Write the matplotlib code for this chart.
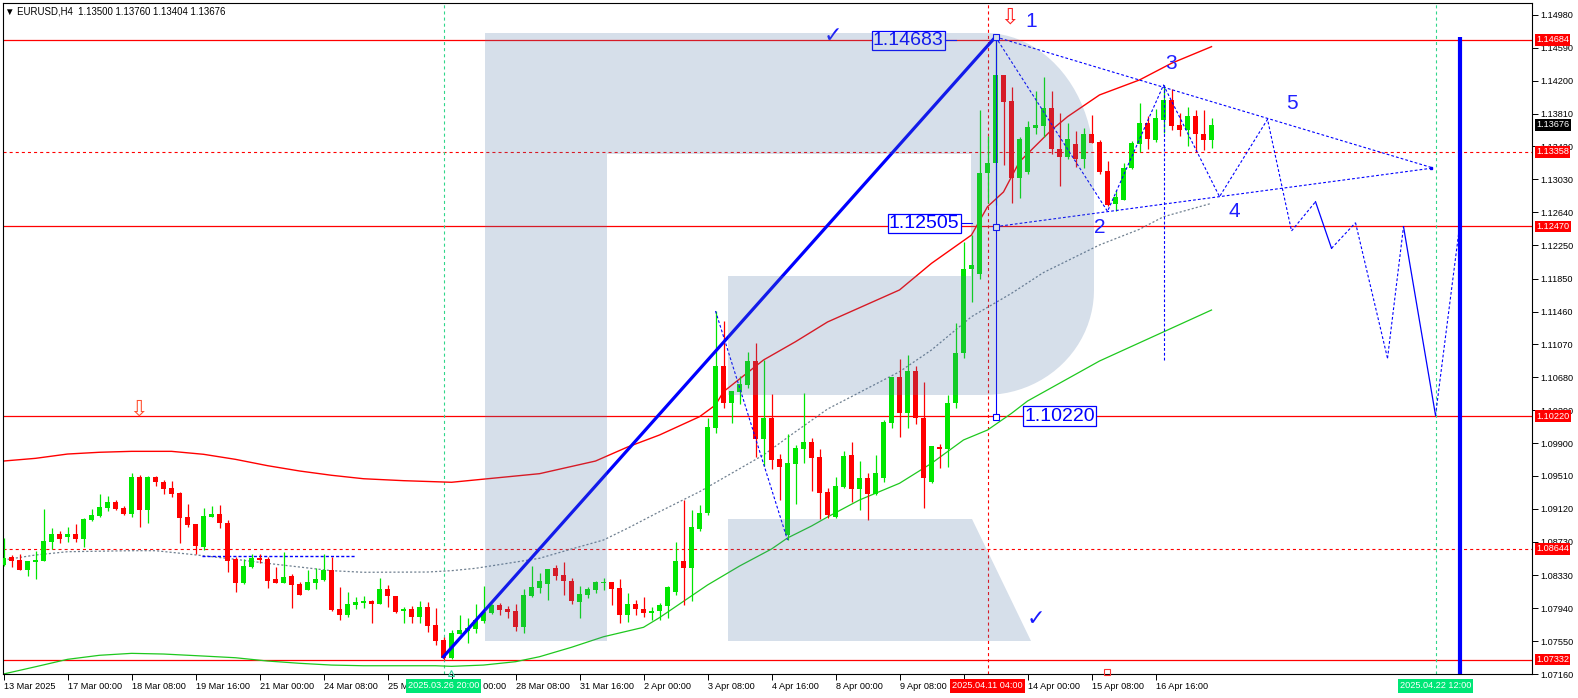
import numpy as np
import matplotlib
matplotlib.use("Agg")
import matplotlib.pyplot as plt
from matplotlib.patches import Polygon

plt.rcParams["font.family"] = ["Liberation Sans", "DejaVu Sans"]
plt.rcParams["lines.scale_dashes"] = False

# -- EURUSD H4 candles, bar 0 = 13 Mar 2025 ------------------------
opens = [1.08453, 1.08544, 1.08512, 1.08398, 1.08492, 1.08500, 1.08730, 1.08821, 1.08789, 1.08821,
         1.08765, 1.08991, 1.09038, 1.09133, 1.09200, 1.09129, 1.09062, 1.09496, 1.09109, 1.09496,
         1.09441, 1.09366, 1.09307, 1.09026, 1.08939, 1.08662, 1.09026, 1.09058, 1.08951, 1.08524,
         1.08243, 1.08433, 1.08536, 1.08524, 1.08287, 1.08243, 1.08322, 1.08231, 1.08156, 1.08243,
         1.08275, 1.08393, 1.07930, 1.07864, 1.07982, 1.08006, 1.08030, 1.07994, 1.08168, 1.08085,
         1.07907, 1.07930, 1.07840, 1.07954, 1.07737, 1.07563, 1.07352, 1.07637, 1.07665, 1.07693,
         1.07788, 1.07883, 1.07974, 1.07930, 1.07907, 1.07721, 1.08089, 1.08180, 1.08231, 1.08418,
         1.08334, 1.08263, 1.08018, 1.08097, 1.08156, 1.08243, 1.08251, 1.08180, 1.07863, 1.07990,
         1.07929, 1.07879, 1.07913, 1.07969, 1.08128, 1.08503, 1.08413, 1.08877, 1.09067, 1.10083,
         1.10815, 1.10379, 1.10510, 1.10589, 1.10874, 1.09952, 1.10201, 1.09711, 1.08809, 1.09655,
         1.09830, 1.09913, 1.09735, 1.09319, 1.09019, 1.09382, 1.09755, 1.09352, 1.09482, 1.09292,
         1.09489, 1.10142, 1.10681, 1.10261, 1.10755, 1.10201, 1.09442, 1.09853, 1.09826, 1.10372,
         1.10973, 1.11962, 1.11903, 1.13101, 1.13220, 1.14264, 1.13963, 1.13049, 1.13120, 1.13643,
         1.13666, 1.13873, 1.13390, 1.13291, 1.13449, 1.13271, 1.13568, 1.13473, 1.13132, 1.12741,
         1.12788, 1.13168, 1.13449, 1.13698, 1.13497, 1.13734, 1.13971, 1.13675, 1.13615, 1.13781,
         1.13568, 1.13500]
highs = [1.08769, 1.08571, 1.08579, 1.08504, 1.08619, 1.09117, 1.08892, 1.08856, 1.08904, 1.08935,
         1.09015, 1.09113, 1.09295, 1.09268, 1.09224, 1.09149, 1.09540, 1.09520, 1.09504, 1.09508,
         1.09461, 1.09453, 1.09315, 1.09177, 1.08939, 1.09133, 1.09153, 1.09165, 1.08987, 1.08552,
         1.08524, 1.08579, 1.08583, 1.08544, 1.08433, 1.08607, 1.08346, 1.08255, 1.08393, 1.08413,
         1.08583, 1.08552, 1.08196, 1.08132, 1.08069, 1.08085, 1.08038, 1.08298, 1.08215, 1.08085,
         1.07958, 1.07970, 1.08022, 1.08018, 1.07946, 1.07602, 1.07681, 1.07859, 1.07820, 1.07990,
         1.08204, 1.07990, 1.07998, 1.07966, 1.07990, 1.08164, 1.08441, 1.08354, 1.08406, 1.08453,
         1.08489, 1.08295, 1.08208, 1.08196, 1.08263, 1.08303, 1.08251, 1.08287, 1.08117, 1.08037,
         1.08069, 1.07955, 1.08002, 1.08204, 1.08727, 1.09227, 1.09102, 1.09165, 1.10201, 1.11467,
         1.11349, 1.10518, 1.10696, 1.10981, 1.11084, 1.10886, 1.10482, 1.09774, 1.10008, 1.09877,
         1.10494, 1.09964, 1.09830, 1.09367, 1.09501, 1.09806, 1.09909, 1.09684, 1.09549, 1.09759,
         1.10174, 1.10681, 1.10894, 1.10945, 1.10815, 1.10628, 1.09865, 1.09885, 1.10471, 1.11321,
         1.12283, 1.12369, 1.13853, 1.13541, 1.14720, 1.14264, 1.14129, 1.13529, 1.13722, 1.14082,
         1.14241, 1.14078, 1.13821, 1.13702, 1.13607, 1.13636, 1.13793, 1.13497, 1.13247, 1.12903,
         1.13220, 1.13485, 1.13932, 1.13781, 1.13865, 1.14149, 1.14098, 1.13813, 1.13885, 1.13853,
         1.13853, 1.13760]
lows = [1.08445, 1.08433, 1.08398, 1.08326, 1.08287, 1.08500, 1.08639, 1.08718, 1.08730, 1.08730,
        1.08666, 1.08971, 1.09026, 1.09094, 1.09105, 1.09046, 1.09026, 1.08908, 1.08955, 1.09394,
        1.09299, 1.09264, 1.08718, 1.08908, 1.08587, 1.08627, 1.09026, 1.08896, 1.08374, 1.08136,
        1.08223, 1.08413, 1.08473, 1.08184, 1.08243, 1.08243, 1.07946, 1.08101, 1.08156, 1.08164,
        1.08263, 1.07907, 1.07800, 1.07832, 1.07930, 1.07938, 1.07761, 1.07994, 1.07958, 1.07887,
        1.07768, 1.07768, 1.07768, 1.07662, 1.07504, 1.07332, 1.07335, 1.07629, 1.07531, 1.07649,
        1.07760, 1.07871, 1.07863, 1.07824, 1.07669, 1.07641, 1.08077, 1.08125, 1.08041, 1.08275,
        1.08097, 1.07990, 1.07828, 1.08057, 1.08125, 1.08160, 1.07978, 1.07768, 1.07780, 1.07859,
        1.07838, 1.07801, 1.07801, 1.07829, 1.08103, 1.07979, 1.08028, 1.08851, 1.09047, 1.10023,
        1.10320, 1.10142, 1.10364, 1.10557, 1.09738, 1.09632, 1.09589, 1.09225, 1.08750, 1.09177,
        1.09664, 1.09331, 1.08999, 1.09011, 1.09007, 1.09370, 1.09201, 1.09106, 1.08987, 1.09280,
        1.09442, 1.10083, 1.09969, 1.10083, 1.10123, 1.09133, 1.09423, 1.09601, 1.09620, 1.10320,
        1.10906, 1.11578, 1.11844, 1.12745, 1.12725, 1.13200, 1.12753, 1.12805, 1.13098, 1.13568,
        1.13529, 1.13331, 1.12954, 1.13271, 1.13173, 1.13161, 1.13465, 1.13090, 1.12713, 1.12654,
        1.12785, 1.13156, 1.13358, 1.13390, 1.13476, 1.13576, 1.13615, 1.13544, 1.13425, 1.13358,
        1.13378, 1.13404]
closes = [1.08532, 1.08500, 1.08398, 1.08496, 1.08512, 1.08738, 1.08821, 1.08765, 1.08821, 1.08765,
          1.08999, 1.09046, 1.09141, 1.09200, 1.09117, 1.09062, 1.09496, 1.09109, 1.09496, 1.09441,
          1.09358, 1.09299, 1.09015, 1.08927, 1.08682, 1.09034, 1.09058, 1.08947, 1.08504, 1.08243,
          1.08441, 1.08540, 1.08512, 1.08267, 1.08243, 1.08306, 1.08219, 1.08101, 1.08251, 1.08287,
          1.08393, 1.07919, 1.07864, 1.07990, 1.08018, 1.08026, 1.07994, 1.08168, 1.08089, 1.07895,
          1.07934, 1.07840, 1.07950, 1.07729, 1.07555, 1.07350, 1.07641, 1.07681, 1.07705, 1.07800,
          1.07895, 1.07974, 1.07919, 1.07895, 1.07721, 1.08097, 1.08188, 1.08263, 1.08406, 1.08322,
          1.08263, 1.08029, 1.08109, 1.08168, 1.08251, 1.08255, 1.08172, 1.07863, 1.07990, 1.07930,
          1.07879, 1.07913, 1.07979, 1.08189, 1.08503, 1.08413, 1.08902, 1.09067, 1.10086, 1.10815,
          1.10379, 1.10518, 1.10601, 1.10874, 1.09952, 1.10201, 1.09699, 1.09620, 1.09660, 1.09842,
          1.09913, 1.09727, 1.09311, 1.09047, 1.09391, 1.09750, 1.09359, 1.09482, 1.09292, 1.09541,
          1.10150, 1.10681, 1.10261, 1.10755, 1.10194, 1.09489, 1.09865, 1.09826, 1.10372, 1.10973,
          1.11966, 1.12010, 1.13101, 1.13224, 1.14264, 1.13951, 1.13042, 1.13509, 1.13654, 1.13675,
          1.13880, 1.13386, 1.13298, 1.13509, 1.13275, 1.13568, 1.13465, 1.13117, 1.12725, 1.12824,
          1.13168, 1.13465, 1.13702, 1.13512, 1.13754, 1.13971, 1.13663, 1.13615, 1.13781, 1.13564,
          1.13497, 1.13676]

# -- moving averages (bar index, price) ---------------------------
red_ma_x = [0, 4, 8, 12, 16, 21, 25, 29, 33, 37, 41, 45, 50, 56, 67, 74, 78, 82, 87, 89, 90,
            95, 99, 103, 112, 116, 121, 123, 125, 126, 127, 131, 133, 137, 142, 146, 151]
red_ma_y = [1.09687, 1.09719, 1.09770, 1.09791, 1.09802, 1.09802, 1.09767, 1.09707, 1.09632,
            1.09569, 1.09518, 1.09477, 1.09454, 1.09435, 1.09537, 1.09687, 1.09853, 1.09996,
            1.10213, 1.10352, 1.10510, 1.10886, 1.11103, 1.11337, 1.11717, 1.12033, 1.12369,
            1.12705, 1.12880, 1.13061, 1.13239, 1.13615, 1.13773, 1.14031, 1.14209, 1.14407, 1.14604]
green_ma_x = [0, 4, 8, 12, 16, 20, 25, 29, 33, 37, 41, 45, 54, 56, 60, 64, 67, 71, 75, 80, 82,
              88, 92, 96, 98, 101, 103, 107, 112, 116, 120, 123, 126, 128, 137, 151]
green_ma_y = [1.07160, 1.07246, 1.07334, 1.07382, 1.07405, 1.07397, 1.07373, 1.07353, 1.07314,
              1.07287, 1.07266, 1.07258, 1.07258, 1.07251, 1.07266, 1.07306, 1.07365, 1.07477,
              1.07602, 1.07714, 1.07829, 1.08216, 1.08441, 1.08643, 1.08774, 1.08916, 1.09023,
              1.09225, 1.09423, 1.09660, 1.09937, 1.10055, 1.10253, 1.10399, 1.10874, 1.11479]
gray_ma_x = [0, 4, 8, 16, 19, 23, 29, 33, 41, 45, 53, 56, 59, 63, 67, 71, 75, 78, 82, 87, 91,
             95, 99, 103, 112, 116, 121, 126, 130, 137, 142, 145, 151]
gray_ma_y = [1.08513, 1.08572, 1.08611, 1.08623, 1.08623, 1.08584, 1.08521, 1.08473, 1.08386,
             1.08367, 1.08370, 1.08386, 1.08414, 1.08473, 1.08533, 1.08643, 1.08750, 1.08889,
             1.09086, 1.09323, 1.09541, 1.09759, 1.10035, 1.10304, 1.10747, 1.11005, 1.11400,
             1.11677, 1.11924, 1.12251, 1.12437, 1.12586, 1.12745]

# -- levels ----------------------------------------------------------
levels = [1.14684, 1.13358, 1.12470, 1.10220, 1.08644, 1.07332]
level_dashed = [False, True, False, False, True, False]
axis_tags = [1.14684, 1.13676, 1.13358, 1.12470, 1.10220, 1.08644, 1.07332]
y_ticks = [1.14980, 1.14590, 1.14200, 1.13810, 1.13420, 1.13030, 1.12640, 1.12250, 1.11850,
           1.11460, 1.11070, 1.10680, 1.10290, 1.09900, 1.09510, 1.09120, 1.08730, 1.08330,
           1.07940, 1.07550, 1.07160]
x_tick_pos = list(range(0, 145, 8))
x_tick_lab = ["13 Mar 2025", "17 Mar 00:00", "18 Mar 08:00", "19 Mar 16:00", "21 Mar 00:00",
              "24 Mar 08:00", "25 Mar 16:00", "27 Mar 00:00", "28 Mar 08:00", "31 Mar 16:00",
              "2 Apr 00:00", "3 Apr 08:00", "4 Apr 16:00", "8 Apr 00:00", "9 Apr 08:00",
              "10 Apr 16:00", "14 Apr 00:00", "15 Apr 08:00", "16 Apr 16:00"]

# -- wave analysis drawings -------------------------------------------
trend_x = [54.85, 124]
trend_y = [1.07350, 1.14720]
swing_x = [89, 98]
swing_y = [1.11467, 1.08750]
wave_x = [124, 138, 145, 152, 158, 161, 164]
wave_y = [1.14720, 1.12650, 1.14149, 1.12824, 1.13742, 1.12417, 1.12764]
fcst_x = [164, 166, 169, 173, 175, 179, 182]
fcst_y = [1.12764, 1.12211, 1.12515, 1.10906, 1.12468, 1.10230, 1.12468]
fcst_solid = [True, False, False, False, True, False]
tri_up_x, tri_up_y = [124, 178.7], [1.14720, 1.13164]
tri_lo_x, tri_lo_y = [124, 178.7], [1.12468, 1.13164]
wave_num = ["1", "2", "3", "4", "5"]
wave_num_x = [128.4, 137.0, 146.0, 153.9, 161.0]
wave_num_y = [1.14897, 1.12459, 1.14407, 1.12646, 1.13924]
price_tags = ["1.14683", "1.12505", "1.10220"]
price_tag_x = [113.1, 115.1, 132.0]
price_tag_y = [1.14674, 1.12508, 1.10220]
marker_y = [1.14720, 1.12468, 1.10213]

W, H = 1578, 698
fig = plt.figure(figsize=(W / 100, H / 100), dpi=100)
ax = fig.add_axes([3 / W, 24 / H, 1529 / W, 671 / H])
ax.set_xlim(-0.0625, 191.06)
ax.set_ylim(1.07160, 1.15122)

# level lines
for lv, dsh in zip(levels, level_dashed):
    if dsh:
        ax.axhline(lv, color="#ff0000", lw=0.8, dashes=(2.2, 2.2), zorder=1)
    else:
        ax.axhline(lv, color="#ff0000", lw=0.9, zorder=1)

# vertical time markers
ax.axvline(55, color="#2fd68a", lw=0.8, dashes=(2.2, 2.2), zorder=1)
ax.axvline(123, color="#ff0000", lw=0.8, dashes=(2.2, 2.2), zorder=1)
ax.axvline(179, color="#2fd68a", lw=0.8, dashes=(2.2, 2.2), zorder=1)

# moving averages
ax.plot(red_ma_x, red_ma_y, color="#ff0000", lw=1.0, zorder=2)
ax.plot(green_ma_x, green_ma_y, color="#1ec81e", lw=0.9, zorder=2)
ax.plot(gray_ma_x, gray_ma_y, color="#708090", lw=0.9, dashes=(1.5, 1.5), zorder=2)
ax.plot([24.8, 43.9], [1.08559, 1.08559], color="#0000ff", lw=1.0, dashes=(2.2, 1.5), zorder=2)

# candles
idx = np.arange(len(opens))
o, h, l, c = map(np.array, (opens, highs, lows, closes))
up = c >= o
cols = np.where(up, "#00e600", "#ff0000")
ax.vlines(idx, l, h, colors=cols, lw=0.9, zorder=3)
ax.bar(idx, np.maximum(np.abs(c - o), 0.00012), bottom=np.minimum(o, c), width=0.6,
       color=cols, linewidth=0, zorder=3)

# trend and wave lines
ax.plot(trend_x, trend_y, color="#0000ff", lw=2.3, zorder=4, solid_capstyle="butt")
ax.plot(swing_x, swing_y, color="#0000ff", lw=0.8, dashes=(2, 1.5), zorder=4)
ax.plot(wave_x, wave_y, color="#0000ff", lw=0.8, dashes=(2, 1.5), zorder=4)
for k, solid in enumerate(fcst_solid):
    seg_x, seg_y = fcst_x[k:k + 2], fcst_y[k:k + 2]
    if solid:
        ax.plot(seg_x, seg_y, color="#0000ff", lw=0.9, zorder=4)
    else:
        ax.plot(seg_x, seg_y, color="#0000ff", lw=0.8, dashes=(2, 1.5), zorder=4)
ax.plot(tri_up_x, tri_up_y, color="#0000ff", lw=0.8, dashes=(2, 1.5), zorder=4)
ax.plot(tri_lo_x, tri_lo_y, color="#0000ff", lw=0.8, dashes=(2, 1.5), zorder=4)
ax.plot([178.4], [1.13164], "s", color="#0000ff", ms=2, zorder=4)
ax.plot([145, 145], [1.14149, 1.10862], color="#0000ff", lw=0.8, dashes=(2, 1.5), zorder=4)
ax.plot([124, 124], [marker_y[0], marker_y[2]], color="#0000ff", lw=0.8, zorder=4)
ax.plot([124] * 3, marker_y, "s", mfc="white", mec="#0000ff", ms=4, mew=0.8, zorder=5)
ax.plot([182, 182], [1.14720, 1.07160], color="#0000ff", lw=3.0, zorder=4,
        solid_capstyle="butt")

# price tags on the drawing
for txt, px, py in zip(price_tags, price_tag_x, price_tag_y):
    ax.text(px, py, txt, fontsize=14, color="#0000ff", ha="center", va="center", zorder=6,
            bbox=dict(boxstyle="square,pad=0.06", fc="white", ec="#0000ff", lw=0.9))
ax.plot([117.7, 119.1], [1.14684, 1.14684], color="#0000ff", lw=0.8, zorder=6)
ax.plot([119.8, 121.0], [1.12508, 1.12508], color="#0000ff", lw=0.8, zorder=6)

for t, wx, wy in zip(wave_num, wave_num_x, wave_num_y):
    ax.text(wx, wy, t, fontsize=15, color="#2020ff", ha="center", va="center", zorder=6)

ax.text(103.7, 1.14719, "\u2713", fontsize=16, color="#1a1aff", ha="center", va="center",
        fontweight="bold", zorder=6)
ax.text(129.1, 1.07801, "\u2713", fontsize=16, color="#1a1aff", ha="center", va="center",
        fontweight="bold", zorder=6)
ax.text(125.7, 1.14944, "\u21e9", fontsize=16, color="#ff2020", ha="center", va="center", zorder=6)
ax.text(16.9, 1.10293, "\u21e9", fontsize=16, color="#ff5030", ha="center", va="center", zorder=6)
ax.plot([137.9], [1.07183], "s", mfc="none", mec="#ff3030", ms=5, mew=0.8, zorder=6, clip_on=False)
ax.plot([55.9], [1.07175], "^", mfc="none", mec="#33cc99", ms=5, mew=0.8, zorder=6, clip_on=False)

# axes styling
for sp in ax.spines.values():
    sp.set_color("black")
    sp.set_linewidth(0.8)
ax.yaxis.tick_right()
ax.set_yticks(y_ticks)
ax.set_yticklabels([f"{v:.5f}" for v in y_ticks])
ax.tick_params(axis="y", direction="out", length=4, width=0.7, pad=2, labelsize=6.6)
ax.set_xticks(x_tick_pos)
ax.set_xticklabels(x_tick_lab, ha="left")
ax.tick_params(axis="x", direction="out", length=4, width=0.7, pad=2, labelsize=6.6)

for lv in axis_tags:
    fc = "black" if abs(lv - 1.13676) < 1e-6 else "#ff0000"
    ax.annotate(f"{lv:.5f}", xy=(1, lv), xycoords=("axes fraction", "data"),
                xytext=(4, 0), textcoords="offset pixels", ha="left", va="center",
                fontsize=6.6, color="white", annotation_clip=False, zorder=8,
                bbox=dict(boxstyle="square,pad=0.15", fc=fc, ec="none"))

date_tags = [(55, "2025.03.26 20:00", "#00e676"), (123, "2025.04.11 04:00", "#ff0000"),
             (179, "2025.04.22 12:00", "#00e676")]
for dx, txt, fc in date_tags:
    ax.annotate(txt, xy=(dx, 0), xycoords=("data", "axes fraction"), xytext=(0, -12),
                textcoords="offset pixels", ha="center", va="center", fontsize=6.6,
                color="white", annotation_clip=False, zorder=8,
                bbox=dict(boxstyle="square,pad=0.22", fc=fc, ec="none"))

fig.text(5 / W, 1 - 11 / H, "\u25bc EURUSD,H4  1.13500 1.13760 1.13404 1.13676",
         fontsize=6.9, va="center", ha="left")

# watermark logo (pixel outline, drawn as translucent overlay)
def arc(cx, cy, rx, ry, a0, a1, n=24):
    t = np.radians(np.linspace(a0, a1, n))
    return list(zip(cx + rx * np.cos(t), cy - ry * np.sin(t)))

body = ([(485, 33)] + arc(985, 165, 109, 132, 90, 0) + arc(985, 290, 109, 105, 0, -90) +
        [(728, 395), (728, 276), (971, 276), (971, 154), (607, 154), (607, 641), (485, 641)])
leg = [(728, 519), (972, 519), (1031, 641), (728, 641)]
for shape in (body, leg):
    pts = [(x / W, 1 - y / H) for x, y in shape]
    fig.add_artist(Polygon(pts, closed=True, transform=fig.transFigure, fc="#5177a6",
                           ec="none", alpha=0.235, zorder=10))

fig.savefig("out.png", dpi=100)
